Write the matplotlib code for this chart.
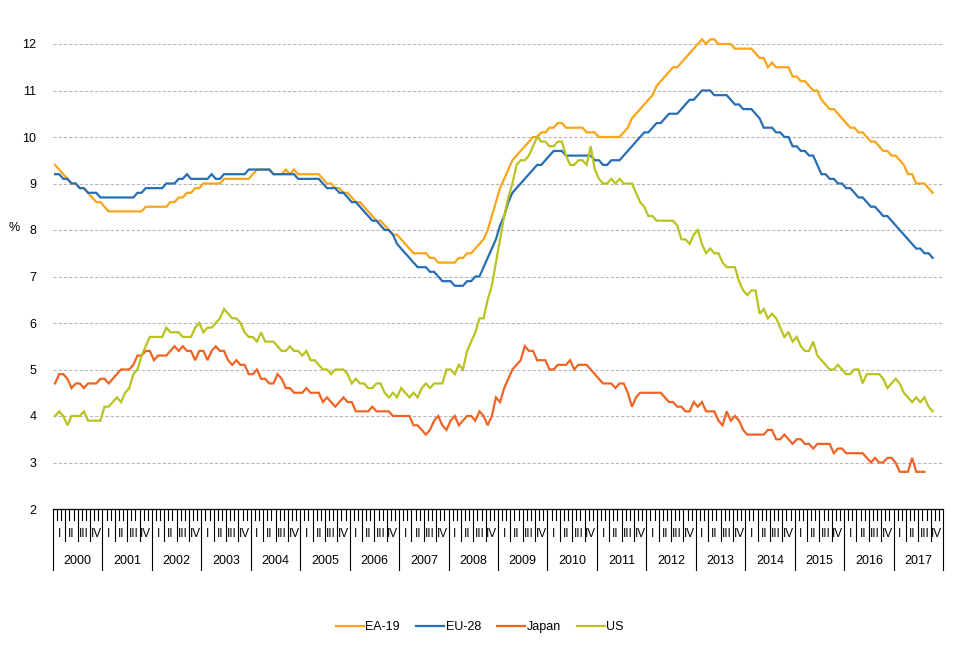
import numpy as np
import matplotlib
matplotlib.use("Agg")
import matplotlib.pyplot as plt
from matplotlib.transforms import blended_transform_factory

plt.rcParams['font.family'] = ['Liberation Sans', 'DejaVu Sans']

# monthly unemployment rates, Jan 2000 onwards (%)
years = list(range(2000, 2018))
quarters = ['I', 'II', 'III', 'IV']

ea19 = [9.4, 9.3, 9.2, 9.1, 9.0, 9.0, 8.9, 8.9, 8.8, 8.7, 8.6, 8.6,
        8.5, 8.4, 8.4, 8.4, 8.4, 8.4, 8.4, 8.4, 8.4, 8.4, 8.5, 8.5,
        8.5, 8.5, 8.5, 8.5, 8.6, 8.6, 8.7, 8.7, 8.8, 8.8, 8.9, 8.9,
        9.0, 9.0, 9.0, 9.0, 9.0, 9.1, 9.1, 9.1, 9.1, 9.1, 9.1, 9.1,
        9.2, 9.3, 9.3, 9.3, 9.3, 9.2, 9.2, 9.2, 9.3, 9.2, 9.3, 9.2,
        9.2, 9.2, 9.2, 9.2, 9.2, 9.1, 9.0, 9.0, 8.9, 8.9, 8.8, 8.8,
        8.7, 8.6, 8.6, 8.5, 8.4, 8.3, 8.2, 8.2, 8.1, 8.0, 7.9, 7.9,
        7.8, 7.7, 7.6, 7.5, 7.5, 7.5, 7.5, 7.4, 7.4, 7.3, 7.3, 7.3,
        7.3, 7.3, 7.4, 7.4, 7.5, 7.5, 7.6, 7.7, 7.8, 8.0, 8.3, 8.6,
        8.9, 9.1, 9.3, 9.5, 9.6, 9.7, 9.8, 9.9, 10.0, 10.0, 10.1, 10.1,
        10.2, 10.2, 10.3, 10.3, 10.2, 10.2, 10.2, 10.2, 10.2, 10.1, 10.1, 10.1,
        10.0, 10.0, 10.0, 10.0, 10.0, 10.0, 10.1, 10.2, 10.4, 10.5, 10.6, 10.7,
        10.8, 10.9, 11.1, 11.2, 11.3, 11.4, 11.5, 11.5, 11.6, 11.7, 11.8, 11.9,
        12.0, 12.1, 12.0, 12.1, 12.1, 12.0, 12.0, 12.0, 12.0, 11.9, 11.9, 11.9,
        11.9, 11.9, 11.8, 11.7, 11.7, 11.5, 11.6, 11.5, 11.5, 11.5, 11.5, 11.3,
        11.3, 11.2, 11.2, 11.1, 11.0, 11.0, 10.8, 10.7, 10.6, 10.6, 10.5, 10.4,
        10.3, 10.2, 10.2, 10.1, 10.1, 10.0, 9.9, 9.9, 9.8, 9.7, 9.7, 9.6,
        9.6, 9.5, 9.4, 9.2, 9.2, 9.0, 9.0, 9.0, 8.9, 8.8]

eu28 = [9.2, 9.2, 9.1, 9.1, 9.0, 9.0, 8.9, 8.9, 8.8, 8.8, 8.8, 8.7,
        8.7, 8.7, 8.7, 8.7, 8.7, 8.7, 8.7, 8.7, 8.8, 8.8, 8.9, 8.9,
        8.9, 8.9, 8.9, 9.0, 9.0, 9.0, 9.1, 9.1, 9.2, 9.1, 9.1, 9.1,
        9.1, 9.1, 9.2, 9.1, 9.1, 9.2, 9.2, 9.2, 9.2, 9.2, 9.2, 9.3,
        9.3, 9.3, 9.3, 9.3, 9.3, 9.2, 9.2, 9.2, 9.2, 9.2, 9.2, 9.1,
        9.1, 9.1, 9.1, 9.1, 9.1, 9.0, 8.9, 8.9, 8.9, 8.8, 8.8, 8.7,
        8.6, 8.6, 8.5, 8.4, 8.3, 8.2, 8.2, 8.1, 8.0, 8.0, 7.9, 7.7,
        7.6, 7.5, 7.4, 7.3, 7.2, 7.2, 7.2, 7.1, 7.1, 7.0, 6.9, 6.9,
        6.9, 6.8, 6.8, 6.8, 6.9, 6.9, 7.0, 7.0, 7.2, 7.4, 7.6, 7.8,
        8.1, 8.3, 8.6, 8.8, 8.9, 9.0, 9.1, 9.2, 9.3, 9.4, 9.4, 9.5,
        9.6, 9.7, 9.7, 9.7, 9.6, 9.6, 9.6, 9.6, 9.6, 9.6, 9.6, 9.5,
        9.5, 9.4, 9.4, 9.5, 9.5, 9.5, 9.6, 9.7, 9.8, 9.9, 10.0, 10.1,
        10.1, 10.2, 10.3, 10.3, 10.4, 10.5, 10.5, 10.5, 10.6, 10.7, 10.8, 10.8,
        10.9, 11.0, 11.0, 11.0, 10.9, 10.9, 10.9, 10.9, 10.8, 10.7, 10.7, 10.6,
        10.6, 10.6, 10.5, 10.4, 10.2, 10.2, 10.2, 10.1, 10.1, 10.0, 10.0, 9.8,
        9.8, 9.7, 9.7, 9.6, 9.6, 9.4, 9.2, 9.2, 9.1, 9.1, 9.0, 9.0,
        8.9, 8.9, 8.8, 8.7, 8.7, 8.6, 8.5, 8.5, 8.4, 8.3, 8.3, 8.2,
        8.1, 8.0, 7.9, 7.8, 7.7, 7.6, 7.6, 7.5, 7.5, 7.4]

japan = [4.7, 4.9, 4.9, 4.8, 4.6, 4.7, 4.7, 4.6, 4.7, 4.7, 4.7, 4.8,
         4.8, 4.7, 4.8, 4.9, 5.0, 5.0, 5.0, 5.1, 5.3, 5.3, 5.4, 5.4,
         5.2, 5.3, 5.3, 5.3, 5.4, 5.5, 5.4, 5.5, 5.4, 5.4, 5.2, 5.4,
         5.4, 5.2, 5.4, 5.5, 5.4, 5.4, 5.2, 5.1, 5.2, 5.1, 5.1, 4.9,
         4.9, 5.0, 4.8, 4.8, 4.7, 4.7, 4.9, 4.8, 4.6, 4.6, 4.5, 4.5,
         4.5, 4.6, 4.5, 4.5, 4.5, 4.3, 4.4, 4.3, 4.2, 4.3, 4.4, 4.3,
         4.3, 4.1, 4.1, 4.1, 4.1, 4.2, 4.1, 4.1, 4.1, 4.1, 4.0, 4.0,
         4.0, 4.0, 4.0, 3.8, 3.8, 3.7, 3.6, 3.7, 3.9, 4.0, 3.8, 3.7,
         3.9, 4.0, 3.8, 3.9, 4.0, 4.0, 3.9, 4.1, 4.0, 3.8, 4.0, 4.4,
         4.3, 4.6, 4.8, 5.0, 5.1, 5.2, 5.5, 5.4, 5.4, 5.2, 5.2, 5.2,
         5.0, 5.0, 5.1, 5.1, 5.1, 5.2, 5.0, 5.1, 5.1, 5.1, 5.0, 4.9,
         4.8, 4.7, 4.7, 4.7, 4.6, 4.7, 4.7, 4.5, 4.2, 4.4, 4.5, 4.5,
         4.5, 4.5, 4.5, 4.5, 4.4, 4.3, 4.3, 4.2, 4.2, 4.1, 4.1, 4.3,
         4.2, 4.3, 4.1, 4.1, 4.1, 3.9, 3.8, 4.1, 3.9, 4.0, 3.9, 3.7,
         3.6, 3.6, 3.6, 3.6, 3.6, 3.7, 3.7, 3.5, 3.5, 3.6, 3.5, 3.4,
         3.5, 3.5, 3.4, 3.4, 3.3, 3.4, 3.4, 3.4, 3.4, 3.2, 3.3, 3.3,
         3.2, 3.2, 3.2, 3.2, 3.2, 3.1, 3.0, 3.1, 3.0, 3.0, 3.1, 3.1,
         3.0, 2.8, 2.8, 2.8, 3.1, 2.8, 2.8, 2.8]

us = [4.0, 4.1, 4.0, 3.8, 4.0, 4.0, 4.0, 4.1, 3.9, 3.9, 3.9, 3.9,
      4.2, 4.2, 4.3, 4.4, 4.3, 4.5, 4.6, 4.9, 5.0, 5.3, 5.5, 5.7,
      5.7, 5.7, 5.7, 5.9, 5.8, 5.8, 5.8, 5.7, 5.7, 5.7, 5.9, 6.0,
      5.8, 5.9, 5.9, 6.0, 6.1, 6.3, 6.2, 6.1, 6.1, 6.0, 5.8, 5.7,
      5.7, 5.6, 5.8, 5.6, 5.6, 5.6, 5.5, 5.4, 5.4, 5.5, 5.4, 5.4,
      5.3, 5.4, 5.2, 5.2, 5.1, 5.0, 5.0, 4.9, 5.0, 5.0, 5.0, 4.9,
      4.7, 4.8, 4.7, 4.7, 4.6, 4.6, 4.7, 4.7, 4.5, 4.4, 4.5, 4.4,
      4.6, 4.5, 4.4, 4.5, 4.4, 4.6, 4.7, 4.6, 4.7, 4.7, 4.7, 5.0,
      5.0, 4.9, 5.1, 5.0, 5.4, 5.6, 5.8, 6.1, 6.1, 6.5, 6.8, 7.3,
      7.8, 8.3, 8.7, 9.0, 9.4, 9.5, 9.5, 9.6, 9.8, 10.0, 9.9, 9.9,
      9.8, 9.8, 9.9, 9.9, 9.6, 9.4, 9.4, 9.5, 9.5, 9.4, 9.8, 9.3,
      9.1, 9.0, 9.0, 9.1, 9.0, 9.1, 9.0, 9.0, 9.0, 8.8, 8.6, 8.5,
      8.3, 8.3, 8.2, 8.2, 8.2, 8.2, 8.2, 8.1, 7.8, 7.8, 7.7, 7.9,
      8.0, 7.7, 7.5, 7.6, 7.5, 7.5, 7.3, 7.2, 7.2, 7.2, 6.9, 6.7,
      6.6, 6.7, 6.7, 6.2, 6.3, 6.1, 6.2, 6.1, 5.9, 5.7, 5.8, 5.6,
      5.7, 5.5, 5.4, 5.4, 5.6, 5.3, 5.2, 5.1, 5.0, 5.0, 5.1, 5.0,
      4.9, 4.9, 5.0, 5.0, 4.7, 4.9, 4.9, 4.9, 4.9, 4.8, 4.6, 4.7,
      4.8, 4.7, 4.5, 4.4, 4.3, 4.4, 4.3, 4.4, 4.2, 4.1]

W, H = 960, 646
fig = plt.figure(figsize=(W / 100, H / 100), dpi=100)
ax = fig.add_axes([53 / W, (H - 509) / H, (943 - 53) / W, (509 - 44) / H])

series = [('EA-19', ea19, '#FAA519'), ('EU-28', eu28, '#286EB4'),
          ('Japan', japan, '#F06423'), ('US', us, '#B9C31E')]
for name, vals, col in series:
    ax.plot(np.arange(len(vals)), vals, color=col, lw=1.6, label=name,
            solid_joinstyle='miter', clip_on=False)

n_months = 12 * len(years)
ax.set_xlim(-0.5, n_months - 0.5)
ax.set_ylim(2, 12)
ax.set_yticks(range(2, 13))
ax.set_xticks([])
ax.grid(axis='y', color='#B4B4B4', lw=0.75, ls=(0, (3, 2)))
ax.set_axisbelow(True)
ax.tick_params(axis='y', length=0, labelsize=9, pad=12)
for s in ['left', 'right', 'top']:
    ax.spines[s].set_visible(False)
ax.spines['bottom'].set_color('black')
ax.spines['bottom'].set_linewidth(0.9)

fig.text(14 / W, (H - 228) / H, '%', fontsize=9, ha='center', va='center')

# multi-level category axis: months / quarters / years
tr = blended_transform_factory(ax.transData, fig.transFigure)


def fy(py):
    return (H - py) / H


for m in range(n_months + 1):
    xb = m - 0.5
    if m % 12 == 0:
        y_end = 570
    elif m % 3 == 0:
        y_end = 541
    else:
        y_end = 520
    ax.plot([xb, xb], [fy(509), fy(y_end)], transform=tr, color='black',
            lw=0.8, clip_on=False)

for k, yr in enumerate(years):
    for q, lab in enumerate(quarters):
        ax.text(12 * k + 3 * q + 1, fy(534), lab, transform=tr,
                ha='center', va='center', fontsize=8.5)
    ax.text(12 * k + 5.5, fy(561), str(yr), transform=tr,
            ha='center', va='center', fontsize=9)

fig.legend(loc='center', bbox_to_anchor=(0.5, fy(627)), ncol=4,
           frameon=False, fontsize=9, handlelength=2.2, handletextpad=0.15,
           columnspacing=1.3)

fig.savefig('out.png', dpi=100)
